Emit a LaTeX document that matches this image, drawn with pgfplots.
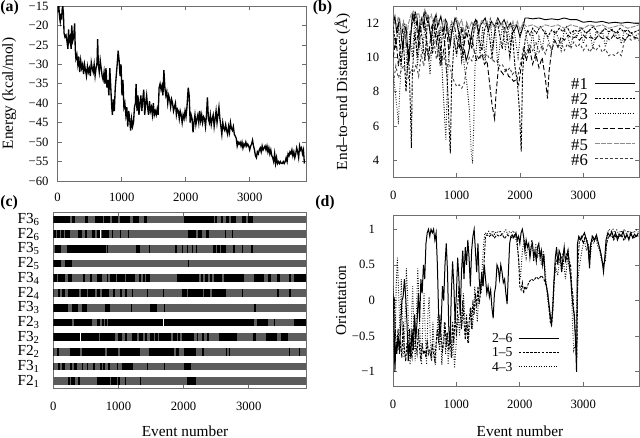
\documentclass[border=0pt]{standalone}
\usepackage{fontspec}
\setmainfont{Liberation Serif}
\usepackage{pgfplots}
\pgfplotsset{compat=1.18}

\definecolor{bargray}{RGB}{92,92,92}
\definecolor{framegray}{RGB}{110,110,110}

\pgfplotsset{
  panel/.style={
    scale only axis, anchor=south west,
    xmin=0, xmax=3880,
    axis line style={framegray, line width=0.4pt},
    tick align=inside, xtick pos=both, ytick pos=both,
    major tick length=2.5pt,
    tick style={framegray, line width=0.4pt},
    xtick={0,1000,2000,3000}, xticklabels={0,1000,2000,3000},
    tick label style={font=\fontsize{7.6}{9}\selectfont},
    label style={font=\fontsize{9.2}{11}\selectfont},
    unbounded coords=jump,
  },
  legline/.style={legend image code/.code={\draw[##1] (0pt,0pt) -- (24pt,0pt);}},
}

\begin{document}
\begin{tikzpicture}
\path[use as bounding box] (0,0) rectangle (384pt,262.8pt);

% ---------- (a) energy ----------
\begin{axis}[panel, at={(34.6pt,154.2pt)}, width=149pt, height=105pt,
  ymin=-60, ymax=-15, ytick={-60,-55,...,-15},
  yticklabels={−60,−55,−50,−45,−40,−35,−30,−25,−20,−15},
  yticklabel style={xshift=-2pt}, xticklabel style={yshift=-3.5pt},
  ylabel={Energy (kcal/mol)},
  ylabel style={at={(axis description cs:-0.195,0.5)}, anchor=center}]
\addplot[black, line width=0.8pt] coordinates {
(0,-13) (10,-16) (20,-15.5) (30,-18) (40,-19) (50,-17) (60,-18.5) (70,-16) (80,-15) (90,-17)
(100,-22) (115,-23) (130,-22.5) (145,-24) (160,-26) (170,-21) (180,-24) (195,-23) (210,-26) (220,-20)
(235,-24) (250,-23) (265,-19.5) (275,-26) (285,-28.5) (300,-27.5) (315,-30) (330,-28) (345,-32) (360,-29)
(375,-31) (390,-30) (405,-32.5) (420,-30) (435,-31.5) (450,-33) (465,-30.5) (480,-32) (495,-31) (510,-33)
(525,-29.5) (540,-31) (555,-32) (570,-30) (585,-33) (600,-31) (615,-29.5) (625,-23.5) (635,-30) (650,-32)
(665,-29) (680,-31) (695,-33) (710,-34) (725,-32) (740,-35) (755,-31) (770,-36) (785,-34) (800,-38)
(815,-31) (830,-36) (845,-41) (855,-43) (870,-39) (885,-42) (900,-36) (915,-33) (930,-30) (945,-26.5)
(960,-29) (975,-33) (990,-30) (1005,-38) (1020,-34) (1035,-41) (1050,-40) (1065,-43) (1080,-41) (1095,-46)
(1110,-42) (1125,-44) (1140,-47) (1155,-44) (1170,-46) (1185,-45) (1200,-41) (1215,-40) (1225,-35) (1240,-42)
(1255,-38) (1270,-43) (1285,-40) (1300,-38) (1315,-42) (1330,-39) (1345,-36.5) (1360,-43) (1375,-40) (1390,-38)
(1405,-41) (1420,-43) (1435,-39.5) (1450,-42) (1465,-41) (1480,-43) (1495,-40) (1510,-43) (1525,-42) (1540,-43)
(1555,-41.5) (1570,-43) (1585,-36) (1600,-35) (1615,-36.5) (1630,-35.5) (1645,-38) (1660,-31.5) (1675,-36) (1690,-38)
(1705,-37) (1720,-40) (1735,-38) (1750,-39) (1765,-41) (1780,-39) (1795,-40) (1810,-42) (1825,-41) (1840,-40)
(1855,-43) (1870,-41.5) (1885,-42) (1900,-44) (1915,-42) (1930,-43) (1945,-45) (1960,-43) (1975,-44) (1990,-42)
(2005,-43.5) (2020,-41) (2040,-36) (2055,-38) (2070,-45) (2085,-43) (2100,-44) (2115,-47.5) (2130,-45) (2145,-43)
(2160,-45.5) (2175,-44) (2190,-43) (2205,-45) (2220,-42) (2235,-44.5) (2250,-43) (2265,-45) (2280,-43.5) (2295,-44)
(2310,-46) (2325,-43) (2340,-38.5) (2355,-44) (2370,-45) (2385,-43) (2400,-45.5) (2415,-44) (2430,-43) (2445,-46)
(2460,-44) (2475,-42) (2490,-45) (2505,-43) (2520,-41) (2535,-44) (2550,-46) (2565,-48) (2580,-45) (2595,-46.5)
(2610,-47) (2625,-45.5) (2640,-47) (2655,-48) (2670,-46) (2685,-47.5) (2700,-45) (2715,-46.5) (2730,-47) (2745,-46)
(2760,-48) (2775,-48.5) (2790,-49) (2805,-51) (2820,-50) (2835,-50.5) (2850,-50) (2865,-51) (2880,-50) (2895,-51.5)
(2910,-50.5) (2925,-51) (2940,-50) (2955,-51) (2970,-50.5) (2985,-51) (3000,-52) (3015,-51) (3030,-50.5) (3045,-49.5)
(3060,-51) (3075,-52) (3090,-53.5) (3105,-54) (3120,-52.5) (3135,-53) (3150,-52) (3165,-51.5) (3180,-52.5) (3195,-51)
(3210,-52) (3225,-51.5) (3240,-51) (3255,-52) (3270,-51) (3285,-52.5) (3300,-51.5) (3315,-53) (3330,-52) (3345,-53.5)
(3360,-54) (3375,-55) (3390,-53) (3405,-55.5) (3420,-54) (3435,-55.5) (3450,-55) (3465,-55.5) (3480,-55) (3495,-55.5)
(3510,-55.5) (3525,-55) (3540,-55.5) (3555,-55) (3570,-54) (3585,-55) (3600,-53) (3615,-53.5) (3630,-52.5) (3645,-53)
(3660,-52) (3675,-53.5) (3690,-52.5) (3705,-54) (3720,-53) (3735,-51.5) (3750,-52.5) (3765,-54) (3780,-51) (3795,-52)
(3810,-51.5) (3825,-53) (3840,-52) (3855,-55.5)
};
\end{axis}

% ---------- (b) end-to-end distance ----------
\begin{axis}[panel, legline, at={(236pt,156.4pt)}, width=147.4pt, height=102.8pt,
  ymin=3, ymax=13, ytick={4,6,8,10,12}, yticklabels={4,6,8,10,12},
  yticklabel style={xshift=-5pt}, xticklabel style={yshift=-5pt},
  ylabel={End–to–end Distance (Å)},
  ylabel style={at={(axis description cs:-0.207,0.5)}, anchor=center},
  legend plot pos=right, legend cell align=right,
  legend style={at={(axis description cs:0.987,0.065)}, anchor=south east,
    draw=none, fill=none, inner sep=0pt, row sep=0.8pt, column sep=3.6pt,
    font=\fontsize{10}{10}\selectfont,
    nodes={inner sep=0.4pt, text height=7.5pt, text depth=0pt}}]
\addplot[black, line width=0.55pt] coordinates {
(0,12) (25,12.4) (50,11.5) (75,11.9) (100,12.2) (125,11.3) (150,10.5) (175,11.5) (200,11.8) (225,10.6)
(250,9.8) (275,11.2) (300,12.5) (325,12.1) (350,12.6) (375,12.3) (400,11.2) (425,12) (450,12.3) (475,11.8)
(500,12.7) (525,12.2) (550,12.4) (575,11.6) (600,11) (625,11.9) (650,12.2) (675,12.5) (700,11.8) (725,12.1)
(750,12.4) (775,11.9) (800,11.5) (825,12.2) (850,12) (875,11.2) (900,10.8) (925,11.6) (950,11.9) (975,12.3)
(1000,12.1) (1025,11.6) (1050,11.3) (1075,10.6) (1100,10.2) (1125,10.4) (1150,9.8) (1175,10.1) (1200,10.5) (1225,11.2)
(1250,11.7) (1275,12) (1300,12.2) (1325,11.8) (1350,11.4) (1375,11.9) (1400,12) (1450,12.3) (1500,11.6) (1550,12.1)
(1600,11.8) (1650,12.3) (1700,11.9) (1750,12.2) (1800,11.7) (1850,12) (1900,11.5) (1950,11.9) (2000,11.2) (2050,11.8)
(2080,12.3) (2120,12.3) (2200,12.25) (2300,12.3) (2400,12.2) (2500,12.25) (2600,12.2) (2700,12.3) (2800,12.2) (2900,12.2)
(3000,12.05) (3100,12.1) (3200,12.05) (3300,12.1) (3400,12.0) (3500,12.05) (3600,12.0) (3700,12.05) (3800,12.0) (3880,12.0)
};
\addlegendentry{\#1}
\addplot[black, line width=0.55pt, dash pattern=on 1.5pt off 0.8pt] coordinates {
(0,11.8) (40,10.5) (80,12) (120,9.5) (160,11) (200,8) (240,10.5) (270,7) (285,4.7) (300,9)
(340,11.5) (380,10) (420,12) (460,11) (500,9.8) (540,12.3) (580,11.5) (620,10.2) (660,12) (700,11.2)
(740,9.5) (780,11.8) (820,10.5) (860,8) (880,6) (900,4.4) (920,8.5) (960,11) (1000,10.2) (1040,11.5)
(1080,9.8) (1120,11) (1160,12) (1200,11.3) (1240,10.5) (1280,11.8) (1320,12.2) (1360,11) (1400,10.4) (1440,11.6)
(1480,12) (1520,11.2) (1560,10) (1600,11.5) (1640,12.1) (1680,11.3) (1720,10.5) (1760,11.8) (1800,11.2) (1840,10)
(1880,11.5) (1920,9.5) (1960,8.5) (1990,7) (2020,4.5) (2040,9) (2080,11) (2120,11.6) (2160,11.3) (2200,11.7)
(2260,11.4) (2320,11.8) (2380,11.5) (2440,11.2) (2500,11.6) (2560,11.4) (2620,11.7) (2680,11.5) (2740,11.8) (2800,11.4)
(2860,11.6) (2920,11.5) (2980,11.7) (3040,11.4) (3100,11.6) (3160,11.8) (3220,11.5) (3280,11.4) (3340,11.7) (3400,11.5)
(3460,11.6) (3520,11.4) (3580,11.7) (3640,11.5) (3700,11.6) (3760,11.4) (3820,11.5) (3880,11.6)
};
\addlegendentry{\#2}
\addplot[black, line width=0.55pt, dash pattern=on 0.5pt off 1pt] coordinates {
(0,9) (30,8) (60,7) (80,6.1) (100,8) (140,10.5) (180,12) (220,9) (260,11.5) (300,10)
(340,12.3) (380,9.5) (420,11) (460,10.2) (500,12) (540,10.8) (580,9) (620,11.5) (660,12.4) (700,10)
(740,11.8) (780,8.5) (810,6.5) (830,5.2) (850,8) (880,11) (920,12) (960,11.2) (1000,10) (1040,12)
(1080,11.4) (1120,9.5) (1160,8.5) (1200,7) (1230,4.5) (1250,3.8) (1270,6) (1290,9.5) (1330,11.5) (1370,10.2)
(1410,11.8) (1450,9.8) (1490,11.5) (1530,12.2) (1570,10.5) (1610,11.8) (1650,9.5) (1690,11) (1730,12) (1770,10.4)
(1810,11.7) (1850,10.8) (1890,12) (1930,11) (1970,10) (2010,11.5) (2050,12) (2100,11.3) (2150,10.2) (2200,11.5)
(2250,9.8) (2300,11.2) (2350,10.5) (2400,11.6) (2450,11) (2500,10.3) (2550,11.5) (2600,11.2) (2650,10.4) (2700,11.6)
(2750,11.3) (2800,10.6) (2850,11.5) (2900,11.2) (2950,11.7) (3000,10.8) (3050,11.4) (3100,11.6) (3150,10.5) (3200,11.5)
(3250,11.3) (3300,11.6) (3350,10.6) (3400,11.4) (3450,11.7) (3500,11.2) (3550,11.5) (3600,10.8) (3650,11.6) (3700,11.3)
(3750,11.5) (3800,11.2) (3880,11.4)
};
\addlegendentry{\#3}
\addplot[black, line width=0.55pt, dash pattern=on 3pt off 1.5pt] coordinates {
(0,10) (40,11.2) (80,9.5) (120,10.8) (160,12) (200,11) (240,9.8) (280,11.5) (320,12.6) (360,12.2)
(400,10.5) (440,11.8) (480,12.5) (520,11) (560,10) (600,11.7) (640,12.2) (680,10.8) (720,11.5) (760,9.8)
(800,10.5) (840,11.8) (880,10.2) (920,11.4) (960,12) (1000,11) (1040,10.5) (1080,11.8) (1120,10.8) (1160,11.5)
(1200,10.6) (1240,11.2) (1280,10.3) (1320,9.8) (1360,10) (1400,10.2) (1440,9.6) (1480,9.8) (1520,8.5) (1560,7.2)
(1600,6.4) (1620,7.8) (1660,9.4) (1700,9.2) (1740,9.0) (1780,9.3) (1820,8.9) (1860,8.8) (1900,8.6) (1940,8.7)
(1980,8.4) (2020,9.5) (2060,10.5) (2100,9.8) (2150,10.6) (2200,9.6) (2250,10.2) (2300,9.4) (2350,10) (2400,8.8)
(2435,7.6) (2460,9.2) (2500,10.4) (2550,11) (2600,10.6) (2650,11.2) (2700,11) (2760,11.3) (2820,11.1) (2880,11.2)
(2940,11.0) (3000,11.3) (3060,11.1) (3120,11.2) (3180,11.0) (3240,11.3) (3300,11.1) (3360,11.2) (3420,11.0) (3480,11.3)
(3540,11.1) (3600,11.2) (3660,11.0) (3720,11.3) (3780,11.2) (3880,11.1)
};
\addlegendentry{\#4}
\addplot[black!45, line width=0.55pt, dash pattern=on 3pt off 0.7pt] coordinates {
(0,12.2) (40,11.8) (80,12.4) (120,11.5) (160,12.1) (200,10.8) (240,12) (280,12.5) (320,12.7) (360,12.4)
(400,12.6) (440,11.9) (480,12.3) (520,12.6) (560,12.2) (600,12.5) (640,11.8) (680,12.3) (720,12.1) (760,11.6)
(800,12.2) (840,12) (880,11.5) (920,12.1) (960,11.8) (1000,12.3) (1040,11.9) (1080,12.2) (1120,11.4) (1160,12)
(1200,11.7) (1240,12.1) (1280,11.5) (1320,12) (1360,11.8) (1400,12.2) (1440,11.9) (1480,12.1) (1520,11.6) (1560,12)
(1600,11.7) (1640,12.2) (1680,11.8) (1720,12) (1760,11.5) (1800,12.1) (1840,11.7) (1880,12) (1920,11.8) (1960,12.1)
(2000,11.6) (2050,12) (2100,11.8) (2200,11.9) (2300,11.7) (2400,11.9) (2500,11.8) (2600,11.9) (2700,11.7) (2800,11.9)
(2900,11.8) (3000,11.7) (3100,11.9) (3200,11.8) (3300,11.9) (3400,11.7) (3500,11.8) (3600,11.9) (3700,11.7) (3800,11.8)
(3880,11.9)
};
\addlegendentry{\#5}
\addplot[black!75, line width=0.55pt, dash pattern=on 1.5pt off 1.5pt] coordinates {
(0,8.5) (40,9.5) (80,8.8) (120,9.2) (160,9.5) (200,9) (240,8.8) (280,9.3) (320,9.1) (360,9.6)
(400,8.9) (440,10.2) (480,9.5) (520,10.6) (560,9.8) (600,10.4) (640,11) (680,9.9) (720,10.6) (760,9.5)
(800,10.2) (840,9.3) (880,9.8) (920,9) (960,8.6) (1000,8.3) (1040,8.4) (1080,8.2) (1120,8.5) (1160,9.5)
(1200,10) (1240,9.8) (1280,10.3) (1320,10.1) (1360,9.9) (1400,10.2) (1440,10) (1480,10.2) (1520,9.9) (1560,10)
(1600,9.7) (1640,9.8) (1680,9.5) (1720,9.6) (1760,9.3) (1800,9.2) (1840,9.4) (1880,9.0) (1920,9.2) (1960,8.8)
(2000,9.5) (2050,10.5) (2100,10.2) (2150,10.8) (2200,10.4) (2250,10.9) (2300,10.3) (2350,10.7) (2400,10.2) (2450,10.8)
(2500,10.5) (2550,11) (2600,10.6) (2650,10.9) (2700,10.4) (2750,10.8) (2800,10.5) (2850,10.9) (2900,10.6) (2950,10.8)
(3000,10.4) (3050,10.7) (3100,10.3) (3150,10.6) (3200,10.4) (3250,10.7) (3300,10.3) (3350,10.5) (3400,10.1) (3450,10.2)
(3500,10.1) (3550,10.3) (3600,10.1) (3650,11.0) (3700,11.2) (3760,11.0) (3820,11.1) (3880,11.0)
};
\addlegendentry{\#6}
\end{axis}

% ---------- (c) states ----------
\begin{axis}[panel, at={(32pt,30pt)}, width=151.6pt, height=105.6pt,
  ymin=0.54, ymax=12.51, ytick={1,...,12}, ytick style={draw=none},
  yticklabels={F2\textsubscript{1},F3\textsubscript{1},F2\textsubscript{2},F3\textsubscript{2},F2\textsubscript{3},F3\textsubscript{3},F2\textsubscript{4},F3\textsubscript{4},F2\textsubscript{5},F3\textsubscript{5},F2\textsubscript{6},F3\textsubscript{6}},
  yticklabel style={font=\fontsize{9.2}{10}\selectfont, xshift=-4.5pt},
  xticklabel style={yshift=-5pt},
  xlabel={Event number},
  xlabel style={at={(axis description cs:0.521,-0.244)}, anchor=center}]
\addplot[bargray, line width=4.6pt] coordinates {
(0,1)(3880,1)(3880,nan) (0,2)(3880,2)(3880,nan) (0,3)(3880,3)(3880,nan) (0,4)(3880,4)(3880,nan)
(0,5)(3880,5)(3880,nan) (0,6)(3880,6)(3880,nan) (0,7)(3880,7)(3880,nan) (0,8)(3880,8)(3880,nan)
(0,9)(3880,9)(3880,nan) (0,10)(3880,10)(3880,nan) (0,11)(3880,11)(3880,nan) (0,12)(3880,12)
};
% F3_6
\addplot[black, line width=4.6pt] coordinates {
(0,12)(255,12)(255,nan) (290,12)(335,12)(335,nan) (490,12)(540,12)(540,nan) (640,12)(760,12)(760,nan)
(780,12)(870,12)(870,nan) (900,12)(1000,12)(1000,nan) (1020,12)(1180,12)(1180,nan) (1220,12)(1310,12)(1310,nan)
(1390,12)(1440,12)(1440,nan) (2000,12)(2465,12)(2465,nan) (2490,12)(2520,12)(2520,nan) (2570,12)(2600,12)(2600,nan)
(2645,12)(2700,12)(2700,nan) (2725,12)(2800,12)(2800,nan) (2900,12)(2960,12)(2960,nan) (2990,12)(3060,12)
};
% F2_6
\addplot[black, line width=4.6pt] coordinates {
(0,11)(35,11)(35,nan) (50,11)(110,11)(110,nan) (125,11)(165,11)(165,nan) (185,11)(255,11)(255,nan)
(385,11)(435,11)(435,nan) (490,11)(520,11)(520,nan) (590,11)(640,11)(640,nan) (665,11)(715,11)(715,nan)
(740,11)(850,11)(850,nan) (900,11)(915,11)(915,nan) (1020,11)(1035,11)(1035,nan) (1150,11)(1160,11)(1160,nan)
(2070,11)(2195,11)(2195,nan) (2225,11)(2285,11)(2285,nan) (2340,11)(2390,11)(2390,nan) (2640,11)(2655,11)(2655,nan)
(2745,11)(2760,11)
};
% F3_5
\addplot[black, line width=4.6pt] coordinates {
(20,10)(125,10)(125,nan) (205,10)(810,10)(810,nan) (820,10)(840,10)(840,nan) (1275,10)(1325,10)(1325,nan)
(1475,10)(1490,10)(1490,nan) (1870,10)(1900,10)(1900,nan) (1970,10)(1990,10)(1990,nan) (2050,10)(2075,10)(2075,nan)
(2125,10)(2140,10)(2140,nan) (2190,10)(2210,10)(2210,nan) (2450,10)(2500,10)(2500,nan) (2520,10)(2560,10)(2560,nan)
(2580,10)(2645,10)(2645,nan) (2760,10)(2790,10)(2790,nan) (2900,10)(2920,10)(2920,nan) (3030,10)(3070,10)
};
% F2_5
\addplot[black, line width=4.6pt] coordinates {
(0,9)(125,9)(125,nan) (180,9)(280,9)(280,nan) (2070,9)(2090,9)
};
% F3_4
\addplot[black, line width=4.6pt] coordinates {
(0,8)(50,8)(50,nan) (75,8)(175,8)(175,nan) (230,8)(285,8)(285,nan) (460,8)(485,8)(485,nan)
(565,8)(590,8)(590,nan) (665,8)(745,8)(745,nan) (820,8)(845,8)(845,nan) (875,8)(960,8)(960,nan)
(980,8)(1100,8)(1100,nan) (1120,8)(1260,8)(1260,nan) (1310,8)(1350,8)(1350,nan) (1380,8)(1400,8)(1400,nan)
(1430,8)(1490,8)(1490,nan) (1900,8)(2235,8)(2235,nan) (2260,8)(2300,8)(2300,nan) (2330,8)(2380,8)(2380,nan)
(2400,8)(2440,8)(2440,nan) (2470,8)(2595,8)(2595,nan) (2620,8)(2930,8)(2930,nan) (3080,8)(3240,8)(3240,nan)
(3290,8)(3340,8)(3340,nan) (3440,8)(3480,8)(3480,nan) (3620,8)(3650,8)(3650,nan) (3700,8)(3890,8)
};
% F2_4
\addplot[black, line width=4.6pt] coordinates {
(0,7)(10,7)(10,nan) (75,7)(100,7)(100,nan) (140,7)(175,7)(175,nan) (230,7)(400,7)(400,nan)
(420,7)(520,7)(520,nan) (540,7)(640,7)(640,nan) (665,7)(720,7)(720,nan) (740,7)(850,7)(850,nan)
(920,7)(945,7)(945,nan) (1030,7)(1055,7)(1055,nan) (1100,7)(1125,7)(1125,nan) (1205,7)(1230,7)(1230,nan)
(1435,7)(1450,7)(1450,nan) (1690,7)(1705,7)(1705,nan) (1975,7)(2055,7)(2055,nan) (2070,7)(2300,7)(2300,nan)
(2320,7)(2400,7)(2400,nan) (2440,7)(2645,7)(2645,nan) (2895,7)(2910,7)(2910,nan) (3440,7)(3460,7)(3460,nan)
(3620,7)(3650,7)
};
% F3_3
\addplot[black, line width=4.6pt] coordinates {
(0,6)(230,6)(230,nan) (280,6)(385,6)(385,nan) (435,6)(520,6)(520,nan) (800,6)(875,6)(875,nan)
(1200,6)(1215,6)(1215,nan) (1490,6)(1590,6)(1590,nan) (1700,6)(1715,6)(1715,nan) (3080,6)(3110,6)
};
% F2_3
\addplot[black, line width=4.6pt] coordinates {
(0,5)(280,5)(280,nan) (310,5)(590,5)(590,nan) (665,5)(715,5)(715,nan) (740,5)(775,5)(775,nan)
(795,5)(825,5)(825,nan) (845,5)(1680,5)(1680,nan) (1695,5)(3085,5)(3085,nan) (3135,5)(3290,5)(3290,nan)
(3385,5)(3400,5)(3400,nan) (3700,5)(3890,5)
};
% F3_2
\addplot[black, line width=4.6pt] coordinates {
(0,4)(415,4)(415,nan) (430,4)(700,4)(700,nan) (720,4)(950,4)(950,nan) (1000,4)(1050,4)(1050,nan)
(1100,4)(1130,4)(1130,nan) (1205,4)(1280,4)(1280,nan) (1310,4)(1380,4)(1380,nan) (1400,4)(1440,4)(1440,nan)
(1490,4)(1540,4)(1540,nan) (1560,4)(1600,4)(1600,nan) (1620,4)(1695,4)(1695,nan) (1700,4)(1800,4)(1800,nan)
(1830,4)(1900,4)(1900,nan) (1920,4)(1950,4)(1950,nan) (1975,4)(2160,4)(2160,nan) (2210,4)(2225,4)(2225,nan)
(2285,4)(2310,4)(2310,nan) (2360,4)(2385,4)(2385,nan) (2545,4)(2825,4)(2825,nan) (3060,4)(3110,4)(3110,nan)
(3260,4)(3440,4)(3440,nan) (3495,4)(3600,4)
};
% F2_2
\addplot[black, line width=4.6pt] coordinates {
(0,3)(10,3)(10,nan) (60,3)(90,3)(90,nan) (250,3)(410,3)(410,nan) (435,3)(800,3)(800,nan)
(820,3)(1000,3)(1000,nan) (1020,3)(1335,3)(1335,nan) (1465,3)(1860,3)(1860,nan) (1880,3)(1925,3)(1925,nan)
(2000,3)(2185,3)(2185,nan) (2285,3)(2310,3)(2310,nan) (2645,3)(2670,3)(2670,nan) (2700,3)(2720,3)(2720,nan)
(3620,3)(3630,3)(3630,nan) (3780,3)(3790,3)
};
% F3_1
\addplot[black, line width=4.6pt] coordinates {
(0,2)(10,2)(10,nan) (75,2)(100,2)(100,nan) (140,2)(175,2)(175,nan) (255,2)(285,2)(285,nan)
(320,2)(360,2)(360,nan) (435,2)(460,2)(460,nan) (510,2)(540,2)(540,nan) (610,2)(640,2)(640,nan)
(715,2)(740,2)(740,nan) (770,2)(790,2)(790,nan) (845,2)(870,2)(870,nan) (975,2)(1000,2)(1000,nan)
(1050,2)(1230,2)(1230,nan) (1435,2)(1445,2)(1445,nan) (1700,2)(1710,2)(1710,nan) (2000,2)(2120,2)
};
% F2_1
\addplot[black, line width=4.6pt] coordinates {
(230,1)(260,1)(260,nan) (275,1)(330,1)(330,nan) (385,1)(410,1)(410,nan) (665,1)(870,1)(870,nan)
(890,1)(975,1)(975,nan) (995,1)(1020,1)(1020,nan) (1100,1)(1110,1)(1110,nan) (1335,1)(1345,1)(1345,nan)
(2055,1)(2185,1)
};
\addplot[white, line width=4.6pt] coordinates {
(716,11)(728,11)(728,nan) (1681,5)(1694,5)(1694,nan) (416,4)(429,4)
};
\end{axis}

% ---------- (d) orientation ----------
\begin{axis}[panel, legline, at={(235.8pt,31.2pt)}, width=147.6pt, height=102.6pt,
  ymin=-1.2, ymax=1.2, ytick={-1,-0.5,0,0.5,1}, yticklabels={−1,−0.5,0,0.5,1},
  yticklabel style={xshift=-7.3pt}, xticklabel style={yshift=-5.2pt},
  ylabel={Orientation},
  ylabel style={at={(axis description cs:-0.211,0.5)}, anchor=center},
  xlabel={Event number},
  xlabel style={at={(axis description cs:0.516,-0.263)}, anchor=center},
  legend plot pos=right, legend cell align=right,
  legend style={at={(axis description cs:0.677,0.074)}, anchor=south east,
    draw=none, fill=none, inner sep=0pt, row sep=0.7pt, column sep=3pt,
    font=\fontsize{8.2}{8.2}\selectfont,
    nodes={inner sep=0.4pt, text height=6.2pt, text depth=0.8pt}}]
\addplot[black, line width=0.6pt] coordinates {
(0,0.1) (15,-0.2) (30,-1) (45,-0.6) (60,-0.75) (80,-0.5) (100,-0.7) (120,-0.4) (140,0) (160,0.05)
(180,0.3) (200,0.05) (220,-0.3) (240,-0.85) (260,-0.6) (280,-0.8) (300,-0.4) (320,-0.7) (340,-0.2) (360,-0.55)
(380,-0.3) (400,0.1) (420,-0.3) (440,0.3) (460,0.1) (480,0.5) (500,0.3) (520,0.8) (540,0.95) (560,1)
(580,0.9) (600,1) (620,0.95) (640,1) (660,0.85) (680,0.95) (700,0.5) (720,-0.2) (740,-0.5) (760,-0.3)
(780,0.2) (800,0) (820,0.5) (840,0.8) (860,0.4) (880,-0.4) (900,-0.6) (920,0.1) (940,0.55) (960,0.2)
(980,-0.3) (1000,0.1) (1020,0.6) (1040,0.3) (1060,-0.2) (1080,0.4) (1100,0.7) (1120,0.3) (1140,0.75) (1160,0.5)
(1180,0.85) (1200,0.6) (1220,0.2) (1240,0.7) (1260,0.9) (1280,1) (1300,0.7) (1320,0.4) (1340,0.8) (1360,0.3)
(1380,0.1) (1400,0.4) (1420,0.2) (1440,0.5) (1460,0.3) (1480,0.1) (1500,0.2) (1520,0.05) (1540,0.15) (1560,-0.1)
(1580,-0.25) (1600,0.1) (1620,0.2) (1640,0.5) (1660,0.45) (1680,0.3) (1700,0.5) (1720,0.4) (1740,0.25) (1760,0.3)
(1780,0.1) (1800,-0.05) (1820,0.4) (1840,0.8) (1860,0.9) (1880,0.92) (1900,0.88) (1920,0.9) (1940,0.95) (1960,0.85)
(1980,0.9) (2000,0.8) (2020,0.95) (2040,1) (2060,0.9) (2080,0.7) (2100,0.85) (2120,0.75) (2140,0.8) (2160,0.6)
(2180,0.75) (2200,0.8) (2220,0.6) (2240,0.7) (2260,0.55) (2280,0.75) (2300,0.8) (2320,0.6) (2340,0.7) (2360,0.5)
(2380,0.65) (2400,0.3) (2420,0.2) (2440,0.1) (2460,-0.05) (2480,-0.2) (2500,-0.35) (2520,-0.1) (2540,0.3) (2560,0.6)
(2580,0.75) (2600,0.5) (2620,0.7) (2640,0.65) (2660,0.4) (2680,0.6) (2700,0.75) (2720,0.55) (2740,0.6) (2760,0.7)
(2780,0.5) (2800,0.35) (2820,0.1) (2840,-0.1) (2860,-0.2) (2880,-0.6) (2895,-1) (2910,0.8) (2930,0.9) (2960,0.85)
(2990,0.9) (3020,0.95) (3050,0.85) (3080,0.75) (3100,0.45) (3120,0.8) (3150,0.9) (3180,0.85) (3210,0.92) (3240,0.8)
(3270,0.7) (3300,0.55) (3320,0.4) (3340,0.6) (3360,0.85) (3390,0.95) (3420,0.9) (3450,0.97) (3480,0.88) (3510,0.95)
(3540,0.85) (3570,0.93) (3600,0.9) (3630,0.97) (3660,0.87) (3690,0.93) (3720,0.85) (3750,0.95) (3780,0.88) (3810,0.93)
(3840,0.9) (3870,0.95)
};
\addlegendentry{2–6}
\addplot[black, line width=0.55pt, dash pattern=on 1.5pt off 0.8pt] coordinates {
(0,-0.3) (20,0.05) (40,-0.5) (60,-0.7) (80,-0.4) (100,-0.75) (120,-0.6) (140,-0.8) (160,-0.3) (180,-0.7)
(200,-0.85) (220,-0.6) (240,-0.75) (260,-0.4) (280,-0.7) (300,-0.8) (320,-0.5) (340,-0.2) (360,-0.65) (380,-0.75)
(400,-0.4) (420,-0.7) (440,-0.85) (460,-0.6) (480,-0.75) (500,-0.7) (520,-0.8) (540,-0.55) (560,-0.75) (580,-0.7)
(600,-0.8) (620,-0.6) (640,-0.75) (660,-0.85) (680,-0.6) (700,-0.4) (720,-0.6) (740,-0.2) (760,-0.5) (780,-0.7)
(800,-0.6) (820,-0.3) (840,-0.65) (860,-0.45) (880,-0.7) (900,-0.5) (920,-0.8) (940,-0.3) (960,-0.6) (980,-0.2)
(1000,-0.5) (1020,-0.1) (1040,0.2) (1060,-0.15) (1080,-0.4) (1100,0) (1120,-0.3) (1140,-0.55) (1160,-0.2) (1180,-0.6)
(1200,-0.3) (1220,-0.1) (1240,-0.4) (1260,0) (1280,-0.2) (1300,0.1) (1320,-0.1) (1340,0.2) (1360,-0.05) (1380,0.1)
(1400,0.35) (1420,0.2) (1440,0.6) (1460,0.9) (1480,0.92) (1520,0.9) (1560,0.93) (1600,0.88) (1640,0.92) (1680,0.9)
(1720,0.93) (1760,0.87) (1800,0.92) (1840,0.9) (1880,0.88) (1920,0.92) (1950,0.9) (1980,0.6) (2000,0.2) (2020,0.15)
(2040,0.25) (2060,0.1) (2080,0.2) (2100,0.15) (2140,0.25) (2180,0.3) (2220,0.28) (2260,0.33) (2300,0.3) (2340,0.35)
(2380,0.3) (2420,0.2) (2440,0.1) (2460,-0.1) (2480,-0.3) (2500,-0.35) (2520,-0.15) (2540,0.2) (2560,0.5) (2600,0.6)
(2640,0.55) (2680,0.65) (2720,0.6) (2760,0.7) (2780,0.55) (2800,0.5) (2820,0.2) (2840,0.05) (2860,-0.3) (2880,-0.5)
(2900,-0.8) (2915,0.5) (2940,0.85) (2970,0.9) (3000,0.8) (3030,0.9) (3060,0.85) (3090,0.6) (3110,0.75) (3140,0.9)
(3170,0.85) (3200,0.9) (3240,0.8) (3280,0.65) (3310,0.5) (3340,0.55) (3370,0.8) (3400,0.9) (3440,0.93) (3480,0.85)
(3520,0.92) (3560,0.88) (3600,0.93) (3640,0.85) (3680,0.9) (3720,0.88) (3760,0.93) (3800,0.87) (3840,0.92) (3870,0.9)
};
\addlegendentry{1–5}
\addplot[black, line width=0.55pt, dash pattern=on 0.5pt off 1pt] coordinates {
(0,0.2) (15,-0.7) (30,-0.9) (50,0.2) (70,0.6) (90,0.1) (110,-0.5) (130,0.3) (150,-0.2) (170,-0.8)
(190,-0.3) (210,0.45) (230,0.1) (250,-0.6) (270,-0.9) (290,-0.3) (310,0.2) (330,-0.4) (350,-0.85) (370,-0.2)
(390,0.45) (410,0) (430,-0.6) (450,-0.9) (470,-0.3) (490,0.1) (510,-0.5) (530,-0.9) (550,-0.2) (570,0.05)
(590,-0.6) (610,-0.85) (630,-0.3) (650,-0.7) (670,-0.9) (690,-0.5) (710,-0.2) (730,-0.7) (750,-0.4) (770,-0.9)
(790,-0.6) (810,-0.3) (830,-0.75) (850,-0.45) (870,-0.9) (890,-0.6) (910,-0.35) (930,-0.8) (950,-0.5) (970,-0.95)
(990,-0.7) (1010,-0.4) (1030,-0.2) (1050,-0.5) (1070,-0.1) (1090,-0.35) (1110,0.1) (1130,-0.2) (1150,-0.5) (1170,-0.3)
(1190,-0.6) (1210,-0.35) (1230,-0.1) (1250,-0.4) (1270,-0.2) (1290,0.2) (1310,-0.1) (1330,-0.3) (1350,0.05) (1370,0.3)
(1390,0.1) (1410,0.5) (1430,0.8) (1450,0.95) (1480,0.93) (1510,0.97) (1540,0.92) (1570,0.98) (1600,0.93) (1630,0.97)
(1660,0.95) (1690,0.98) (1720,0.92) (1750,0.96) (1780,0.99) (1810,0.93) (1840,0.97) (1870,0.95) (1900,0.98) (1930,0.9)
(1960,0.75) (1990,0.5) (2010,0.3) (2040,0.7) (2070,0.85) (2100,0.6) (2130,0.8) (2160,0.65) (2190,0.85) (2220,0.55)
(2250,0.8) (2280,0.6) (2310,0.75) (2340,0.5) (2370,0.7) (2400,0.45) (2420,0.2) (2440,0.0) (2460,-0.1) (2480,-0.25)
(2500,-0.3) (2520,0.0) (2540,0.3) (2570,0.45) (2600,0.35) (2630,0.6) (2660,0.4) (2690,0.55) (2720,0.3) (2750,0.6)
(2780,0.45) (2810,0.3) (2830,-0.3) (2850,-0.7) (2880,-0.6) (2900,0.1) (2930,0.4) (2960,0.6) (2990,0.75) (3020,0.85)
(3050,0.7) (3080,0.8) (3110,0.6) (3140,0.85) (3170,0.8) (3200,0.9) (3230,0.75) (3260,0.7) (3290,0.55) (3320,0.5)
(3350,0.55) (3380,0.95) (3410,1.0) (3440,0.97) (3470,1.0) (3500,0.95) (3530,0.99) (3560,0.93) (3590,0.98) (3620,0.95)
(3650,1.0) (3680,0.94) (3710,0.98) (3740,0.93) (3770,0.97) (3800,0.95) (3840,0.99) (3870,0.96)
};
\addlegendentry{4–3}
\end{axis}

% panel letters
\node[anchor=west, inner sep=0pt, font=\bfseries\fontsize{9.5}{10}\selectfont] at (0pt,258pt) {(a)};
\node[anchor=west, inner sep=0pt, font=\bfseries\fontsize{9.5}{10}\selectfont] at (187.5pt,258pt) {(b)};
\node[anchor=west, inner sep=0pt, font=\bfseries\fontsize{9.5}{10}\selectfont] at (0pt,141pt) {(c)};
\node[anchor=west, inner sep=0pt, font=\bfseries\fontsize{9.5}{10}\selectfont] at (189pt,141pt) {(d)};
\end{tikzpicture}
\end{document}
